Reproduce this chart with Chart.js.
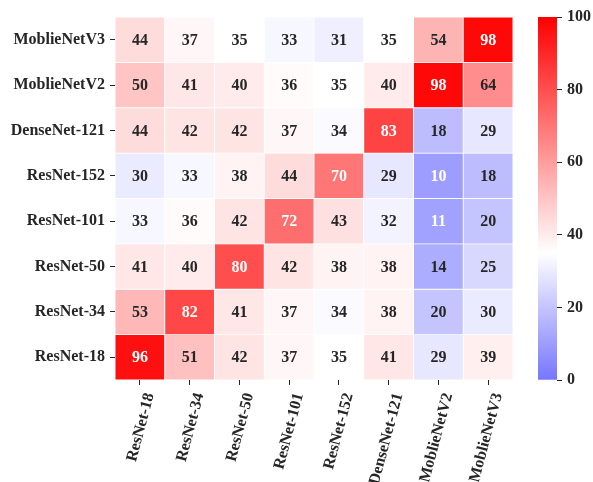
<!DOCTYPE html>
<html>
<head>
<meta charset="utf-8">
<script src="https://cdn.jsdelivr.net/npm/chart.js@4/dist/chart.umd.min.js"></script>
<style>
  html, body { margin: 0; padding: 0; background: #ffffff; }
  #wrap { position: relative; width: 593px; height: 482px; }
  #heat { position: absolute; left: 0; top: 0; }
  #bar { position: absolute; left: 520px; top: 0; }
</style>
</head>
<body>
<div id="wrap">
  <canvas id="heat" width="593" height="482"></canvas>
  <canvas id="bar" width="73" height="482"></canvas>
</div>
<script>
// Model names along the columns (x) and rows (y, top to bottom)
const colLabels = ['ResNet-18', 'ResNet-34', 'ResNet-50', 'ResNet-101', 'ResNet-152', 'DenseNet-121', 'MoblieNetV2', 'MoblieNetV3'];
const rowLabels = ['MoblieNetV3', 'MoblieNetV2', 'DenseNet-121', 'ResNet-152', 'ResNet-101', 'ResNet-50', 'ResNet-34', 'ResNet-18'];

// One array of cell values per row
const rowMoblieNetV3 = [44, 37, 35, 33, 31, 35, 54, 98];
const rowMoblieNetV2 = [50, 41, 40, 36, 35, 40, 98, 64];
const rowDenseNet121 = [44, 42, 42, 37, 34, 83, 18, 29];
const rowResNet152   = [30, 33, 38, 44, 70, 29, 10, 18];
const rowResNet101   = [33, 36, 42, 72, 43, 32, 11, 20];
const rowResNet50    = [41, 40, 80, 42, 38, 38, 14, 25];
const rowResNet34    = [53, 82, 41, 37, 34, 38, 20, 30];
const rowResNet18    = [96, 51, 42, 37, 35, 41, 29, 39];
const rows = [rowMoblieNetV3, rowMoblieNetV2, rowDenseNet121, rowResNet152, rowResNet101, rowResNet50, rowResNet34, rowResNet18];

// Colour scale settings and colour bar ticks
const vMin = 0, vMax = 100, vCenter = 35;
const barTicks = [0, 20, 40, 60, 80, 100];

const FONT = '"Liberation Serif", "Times New Roman", serif';
const INK = '#262626';

// Diverging blue-white-red map, recentred on vCenter
function cmap(v) {
  const r = Math.max(vCenter - vMin, vMax - vCenter);
  let p = (v - (vCenter - r)) / (2 * r);
  p = Math.min(1, Math.max(0, p));
  if (p < 0.5) {
    const f = p / 0.5;
    return [f * 255, f * 255, 255];
  }
  const f = (p - 0.5) / 0.5;
  return [255, (1 - f) * 255, (1 - f) * 255];
}
function rgb(c) { return 'rgb(' + c.map(Math.round).join(',') + ')'; }
function luminance(c) {
  const lin = c.map(x => { x /= 255; return x <= 0.03928 ? x / 12.92 : Math.pow((x + 0.055) / 1.055, 2.4); });
  return 0.2126 * lin[0] + 0.7152 * lin[1] + 0.0722 * lin[2];
}

Chart.defaults.font.family = FONT;
Chart.defaults.font.weight = 'bold';
Chart.defaults.color = INK;

// Writes each cell's value in its centre
const cellText = {
  id: 'cellText',
  afterDatasetsDraw(chart) {
    const ctx = chart.ctx;
    ctx.save();
    ctx.font = 'bold 16px ' + FONT;
    ctx.textAlign = 'center';
    ctx.textBaseline = 'middle';
    chart.data.datasets.forEach((ds, di) => {
      const meta = chart.getDatasetMeta(di);
      meta.data.forEach((el, i) => {
        const v = ds.values[i];
        ctx.fillStyle = luminance(cmap(v)) > 0.408 ? INK : '#ffffff';
        ctx.fillText(String(v), el.x, (el.y + el.base) / 2 + 1);
      });
    });
    ctx.restore();
  }
};

const datasets = rows.map((vals, r) => ({
  label: rowLabels[r],
  values: vals,
  data: vals.map(() => [r, r + 1]),
  backgroundColor: vals.map(v => rgb(cmap(v))),
  borderColor: '#ffffff',
  borderWidth: 0.8,
  borderSkipped: false,
  barPercentage: 1,
  categoryPercentage: 1,
  grouped: false
}));

new Chart(document.getElementById('heat'), {
  type: 'bar',
  data: { labels: colLabels, datasets },
  options: {
    responsive: false,
    animation: false,
    events: [],
    layout: { padding: { top: 17, left: 0, right: 80, bottom: 0 } },
    plugins: { legend: { display: false }, tooltip: { enabled: false } },
    scales: {
      x: {
        type: 'category',
        offset: true,
        grid: { offset: false, drawOnChartArea: false, drawTicks: true, tickLength: 5, color: INK, lineWidth: 1 },
        border: { display: false },
        ticks: { minRotation: 75, maxRotation: 75, padding: 6, labelOffset: 10, font: { size: 16, weight: 'bold' }, color: INK },
        afterFit(s) { s.height = 102; }
      },
      y: {
        type: 'linear',
        min: 0,
        max: rowLabels.length,
        reverse: true,
        grid: { drawOnChartArea: false, drawTicks: true, tickLength: 5, color: INK, lineWidth: 1 },
        border: { display: false },
        afterBuildTicks(s) { s.ticks = rowLabels.map((_, i) => ({ value: i + 0.5 })); },
        ticks: {
          padding: 5,
          font: { size: 16, weight: 'bold' },
          color: INK,
          callback(v) { return rowLabels[Math.floor(v)]; }
        },
        afterFit(s) { s.width = 115; }
      }
    }
  },
  plugins: [cellText]
});

// Colour bar: a single bar spanning the value range, filled with the map
new Chart(document.getElementById('bar'), {
  type: 'bar',
  data: {
    labels: [''],
    datasets: [{
      data: [[vMin, vMax]],
      backgroundColor(ctx) {
        const area = ctx.chart.chartArea;
        if (!area) return 'rgba(0,0,0,0)';
        const g = ctx.chart.ctx.createLinearGradient(0, area.bottom, 0, area.top);
        for (let v = vMin; v <= vMax; v += 1) {
          g.addColorStop((v - vMin) / (vMax - vMin), rgb(cmap(v)));
        }
        return g;
      },
      borderWidth: 0,
      barPercentage: 1,
      categoryPercentage: 1
    }]
  },
  options: {
    responsive: false,
    animation: false,
    events: [],
    layout: { padding: { top: 17, left: 18, right: 0, bottom: 102 } },
    plugins: { legend: { display: false }, tooltip: { enabled: false } },
    scales: {
      x: { display: false },
      y: {
        type: 'linear',
        position: 'right',
        min: vMin,
        max: vMax,
        grid: { drawOnChartArea: false, drawTicks: true, tickLength: 5, color: INK, lineWidth: 1 },
        border: { display: false },
        afterBuildTicks(s) { s.ticks = barTicks.map(v => ({ value: v })); },
        ticks: { padding: 5, font: { size: 16, weight: 'bold' }, color: INK },
        afterFit(s) { s.width = 36; }
      }
    }
  }
});
</script>
</body>
</html>
